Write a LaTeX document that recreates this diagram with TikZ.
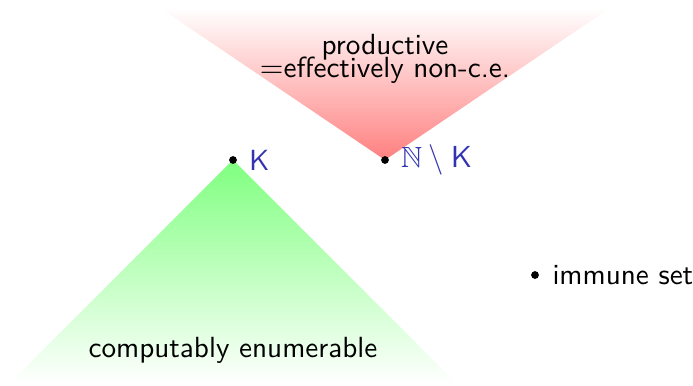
\documentclass[tikz,border=0pt]{standalone}
\usepackage{amsmath}
\usepackage{amssymb}
\usepackage{xcolor}
\usepackage{tikz}
\usetikzlibrary{positioning}
\renewcommand{\familydefault}{\sfdefault}
\definecolor{structure}{RGB}{51,51,178}

\begin{document}
\begin{tikzpicture}[x=0.36pt, y=-0.36pt, font=\fontsize{10.5}{12.6}\selectfont,
    dot/.style={circle, fill=black, inner sep=0pt, minimum size=2.8pt},
    setlabel/.style={inner sep=1pt, text=structure},
    region/.style={anchor=base, inner sep=0pt}]
  \useasboundingbox (0,0) rectangle (693,386);
  % productive sets
  \shade[top color=white, bottom color=red!50] (160,8) -- (610,8) -- (385,160) -- cycle;
  % c.e. sets
  \shade[top color=green!50, bottom color=white] (233,160) -- (457,384) -- (9,384) -- cycle;
  \node[dot] (k) at (233,160) {};
  \node[dot] (nk) at (385,160) {};
  \node[dot] (imm) at (535,275) {};
  \node[setlabel, right=3pt of k] (klabel) {K};
  \node[setlabel, right=3pt of nk] (nklabel) {$\mathbb{N}\setminus\mathsf{K}$};
  \node[inner sep=1pt, right=3.5pt of imm] (immlabel) {immune set};
  \node[region, text depth=0pt] (prod) at (385,55) {productive};
  \node[region] (prodeq) at (385,78) {$=$effectively non-c.e.};
  \node[region] (ce) at (233,357) {computably enumerable};
\end{tikzpicture}
\end{document}
